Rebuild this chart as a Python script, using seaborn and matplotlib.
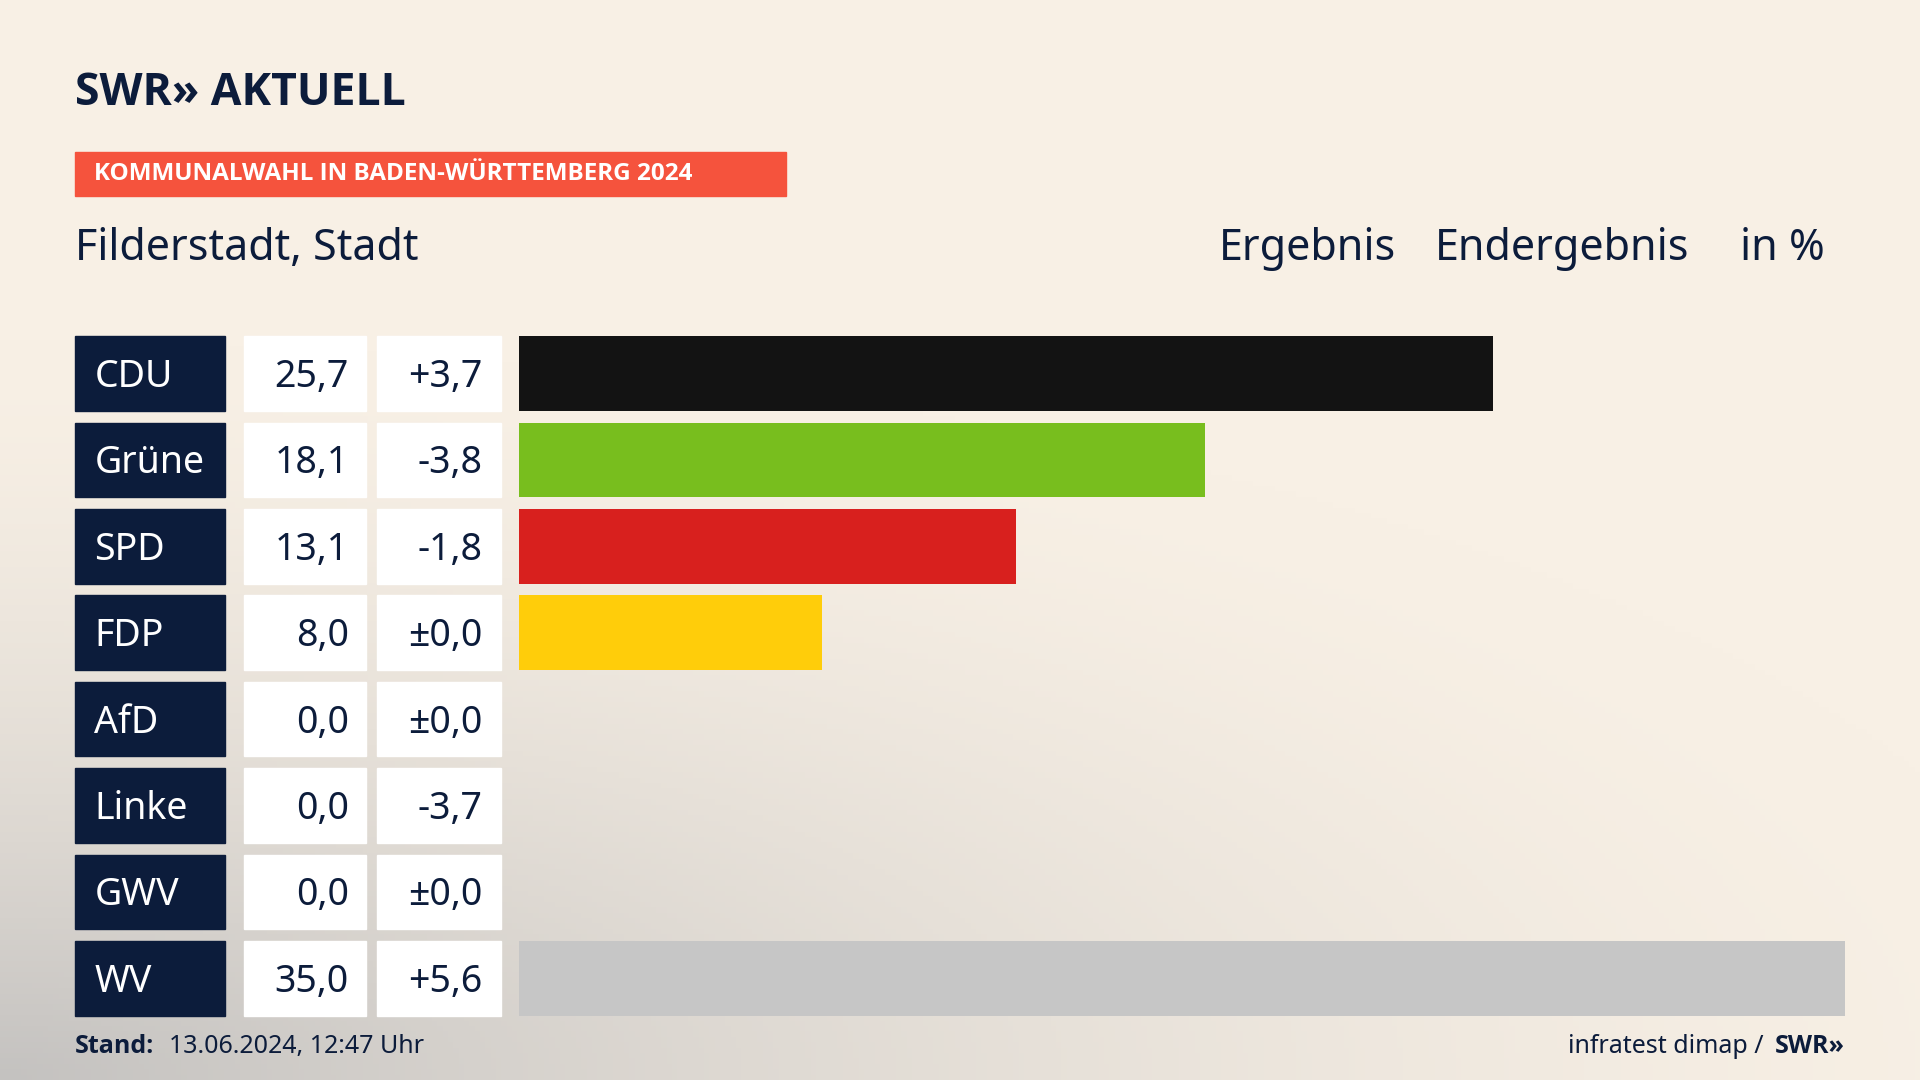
import seaborn as sns
import matplotlib.pyplot as plt
import matplotlib.transforms as mtransforms
from matplotlib.patches import Rectangle
import numpy as np
import pandas as pd

# Daten
parteien = ["CDU", "Grüne", "SPD", "FDP", "AfD", "Linke", "GWV", "WV"]
ergebnis = [25.7, 18.1, 13.1, 8.0, 0.0, 0.0, 0.0, 35.0]
differenz = ["+3,7", "-3,8", "-1,8", "±0,0", "±0,0", "-3,7", "±0,0", "+5,6"]
farben = ["#131313", "#78be1e", "#d8201e", "#ffcd0a", "#0d9ee0", "#be3075", "#888888", "#c6c6c6"]

df = pd.DataFrame({"Partei": parteien, "Ergebnis": ergebnis})

W, H = 1568, 882  # Referenzmaße für Positionen
navy = "#0c1c3b"
plt.rcParams["font.family"] = "Noto Sans"
fett = "Open Sans"

fig = plt.figure(figsize=(19.2, 10.8), dpi=100)

# Hintergrund mit Verlauf
bg = fig.add_axes([0, 0, 1, 1])
yy, xx = np.mgrid[0:1:200j, 0:1:360j]
d = np.clip(1 - np.sqrt((xx * 1.0) ** 2 + ((1 - yy) * 1.6) ** 2) / 1.1, 0, 1)
base = np.array([248, 240, 229]) / 255
dark = np.array([196, 194, 192]) / 255
img = base + (dark - base) * (d[..., None] ** 1.6)
bg.imshow(img, extent=[0, 1, 0, 1], aspect="auto", origin="upper")
bg.axis("off")

# Balken
pitch = 70.57
top = 305 - pitch / 2
bottom = 799 + pitch / 2
ax = fig.add_axes([424 / W, 1 - bottom / H, (1507 - 424) / W, (bottom - top) / H])
sns.barplot(data=df, y="Partei", x="Ergebnis", hue="Partei", palette=farben,
            legend=False, width=0.865, saturation=1, ax=ax, orient="h")
ax.set_xlim(0, 35)
ax.set_ylim(7.5, -0.5)
ax.axis("off")

tr = mtransforms.blended_transform_factory(fig.transFigure, ax.transData)
bh = 0.865
for i, (p, e, dv) in enumerate(zip(parteien, ergebnis, differenz)):
    ax.add_patch(Rectangle((61 / W, i - bh / 2), 123 / W, bh, transform=tr,
                           color=navy, clip_on=False))
    ax.add_patch(Rectangle((199 / W, i - bh / 2), 100 / W, bh, transform=tr,
                           color="white", clip_on=False))
    ax.add_patch(Rectangle((308 / W, i - bh / 2), 101 / W, bh, transform=tr,
                           color="white", clip_on=False))
    ax.text(77 / W, i + 0.04, p, transform=tr, color="white", fontsize=27, va="center", ha="left")
    ax.text(285 / W, i + 0.04, f"{e:.1f}".replace(".", ","), transform=tr, color=navy,
            fontsize=27, va="center", ha="right")
    ax.text(394 / W, i + 0.04, dv, transform=tr, color=navy, fontsize=27, va="center", ha="right")

# Kopf
fig.text(61 / W, 1 - 76 / H, "SWR» AKTUELL", color=navy, fontsize=32, fontweight="bold",
         family=fett, va="center", ha="left")
fig.patches.append(Rectangle((61 / W, 1 - 160 / H), (642 - 61) / W, 36 / H,
                             transform=fig.transFigure, color="#f5533d"))
fig.text(77 / W, 1 - 142 / H, "KOMMUNALWAHL IN BADEN-WÜRTTEMBERG 2024", color="white",
         fontsize=17.5, fontweight="bold", family=fett, va="center", ha="left")
fig.text(61 / W, 1 - 203 / H, "Filderstadt, Stadt", color=navy, fontsize=31,
         va="center", ha="left")
fig.text(1140 / W, 1 - 203 / H, "Ergebnis", color=navy, fontsize=31, va="center", ha="right")
fig.text(1380 / W, 1 - 203 / H, "Endergebnis", color=navy, fontsize=31, va="center", ha="right")
fig.text(1490 / W, 1 - 203 / H, "in %", color=navy, fontsize=31, va="center", ha="right")

# Fuß
fig.text(61 / W, 1 - 855 / H, "Stand:", color=navy, fontsize=18, fontweight="bold",
         family=fett, va="center", ha="left")
fig.text(138 / W, 1 - 855 / H, "13.06.2024, 12:47 Uhr", color=navy,
         fontsize=18, va="center", ha="left")
fig.text(1507 / W, 1 - 855 / H, "SWR»", color=navy, fontsize=18, fontweight="bold",
         family=fett, va="center", ha="right")
fig.text(1440 / W, 1 - 855 / H, "infratest dimap /", color=navy,
         fontsize=18, va="center", ha="right")

fig.savefig("out.png", dpi=100)
